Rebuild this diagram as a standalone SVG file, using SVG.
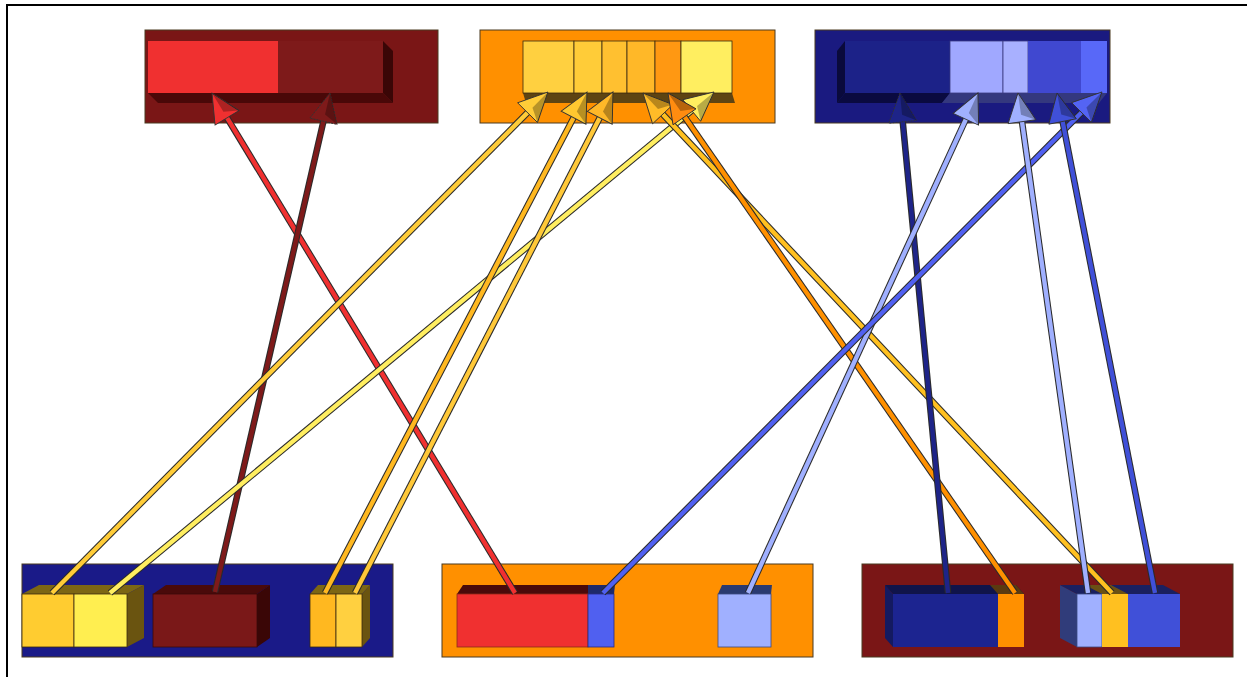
<svg xmlns="http://www.w3.org/2000/svg" width="1247" height="677" viewBox="0 0 1247 677">
<style>
.panel{stroke:#4a3a20;stroke-width:1}
.face{stroke:#3a2a10;stroke-width:0.8}
.sh{fill:#000;opacity:0.28}
.out{fill:none;stroke:#2a2a2a;stroke-width:6.5;stroke-linecap:butt}
.in{fill:none;stroke-width:4.4;stroke-linecap:butt}
</style>
<defs>
<marker id="m-red" markerUnits="userSpaceOnUse" markerWidth="40" markerHeight="40" viewBox="-20 -20 40 40" refX="0" refY="0" orient="auto"><path d="M16,0 L-13,-14 L-13,14 Z" fill="#F03030" stroke="#333" stroke-width="0.9"/><path class="sh" d="M16,0 L-13,14 L-6,0 Z"/></marker>
<marker id="m-dred" markerUnits="userSpaceOnUse" markerWidth="40" markerHeight="40" viewBox="-20 -20 40 40" refX="0" refY="0" orient="auto"><path d="M16,0 L-13,-14 L-13,14 Z" fill="#7E1A1A" stroke="#333" stroke-width="0.9" stroke-dasharray="2,1"/><path class="sh" d="M16,0 L-13,14 L-6,0 Z"/></marker>
<marker id="m-y1" markerUnits="userSpaceOnUse" markerWidth="40" markerHeight="40" viewBox="-20 -20 40 40" refX="0" refY="0" orient="auto"><path d="M16,0 L-13,-14 L-13,14 Z" fill="#FFCC38" stroke="#333" stroke-width="0.9"/><path class="sh" d="M16,0 L-13,14 L-6,0 Z"/></marker>
<marker id="m-y2" markerUnits="userSpaceOnUse" markerWidth="40" markerHeight="40" viewBox="-20 -20 40 40" refX="0" refY="0" orient="auto"><path d="M16,0 L-13,-14 L-13,14 Z" fill="#FFEE60" stroke="#333" stroke-width="0.9"/><path class="sh" d="M16,0 L-13,14 L-6,0 Z"/></marker>
<marker id="m-y3" markerUnits="userSpaceOnUse" markerWidth="40" markerHeight="40" viewBox="-20 -20 40 40" refX="0" refY="0" orient="auto"><path d="M16,0 L-13,-14 L-13,14 Z" fill="#FFC830" stroke="#333" stroke-width="0.9"/><path class="sh" d="M16,0 L-13,14 L-6,0 Z"/></marker>
<marker id="m-y4" markerUnits="userSpaceOnUse" markerWidth="40" markerHeight="40" viewBox="-20 -20 40 40" refX="0" refY="0" orient="auto"><path d="M16,0 L-13,-14 L-13,14 Z" fill="#FFB828" stroke="#333" stroke-width="0.9"/><path class="sh" d="M16,0 L-13,14 L-6,0 Z"/></marker>
<marker id="m-y5" markerUnits="userSpaceOnUse" markerWidth="40" markerHeight="40" viewBox="-20 -20 40 40" refX="0" refY="0" orient="auto"><path d="M16,0 L-13,-14 L-13,14 Z" fill="#FFBC28" stroke="#333" stroke-width="0.9"/><path class="sh" d="M16,0 L-13,14 L-6,0 Z"/></marker>
<marker id="m-or" markerUnits="userSpaceOnUse" markerWidth="40" markerHeight="40" viewBox="-20 -20 40 40" refX="0" refY="0" orient="auto"><path d="M16,0 L-13,-14 L-13,14 Z" fill="#FF8C10" stroke="#333" stroke-width="0.9"/><path class="sh" d="M16,0 L-13,14 L-6,0 Z"/></marker>
<marker id="m-navy" markerUnits="userSpaceOnUse" markerWidth="40" markerHeight="40" viewBox="-20 -20 40 40" refX="0" refY="0" orient="auto"><path d="M16,0 L-13,-14 L-13,14 Z" fill="#1E2488" stroke="#333" stroke-width="0.9" stroke-dasharray="2,1"/><path class="sh" d="M16,0 L-13,14 L-6,0 Z"/></marker>
<marker id="m-lb" markerUnits="userSpaceOnUse" markerWidth="40" markerHeight="40" viewBox="-20 -20 40 40" refX="0" refY="0" orient="auto"><path d="M16,0 L-13,-14 L-13,14 Z" fill="#A0B0FF" stroke="#333" stroke-width="0.9"/><path class="sh" d="M16,0 L-13,14 L-6,0 Z"/></marker>
<marker id="m-bl" markerUnits="userSpaceOnUse" markerWidth="40" markerHeight="40" viewBox="-20 -20 40 40" refX="0" refY="0" orient="auto"><path d="M16,0 L-13,-14 L-13,14 Z" fill="#5464F4" stroke="#333" stroke-width="0.9"/><path class="sh" d="M16,0 L-13,14 L-6,0 Z"/></marker>
<marker id="m-mb" markerUnits="userSpaceOnUse" markerWidth="40" markerHeight="40" viewBox="-20 -20 40 40" refX="0" refY="0" orient="auto"><path d="M16,0 L-13,-14 L-13,14 Z" fill="#4050D8" stroke="#333" stroke-width="0.9"/><path class="sh" d="M16,0 L-13,14 L-6,0 Z"/></marker>
</defs>

<rect x="0" y="0" width="1247" height="677" fill="#ffffff"/>
<path d="M7,680 L7,5 L1250,5" fill="none" stroke="#000" stroke-width="2"/>

<g id="top-left">
<rect class="panel" x="145" y="30" width="293" height="93" fill="#7A1616"/>
<polygon points="148,93 383,93 393,103 158,103" fill="#4A0808"/>
<polygon points="383,41 393,51 393,103 383,93" fill="#3A0606"/>
<rect x="148" y="41" width="130" height="52" fill="#F03030"/>
<rect x="278" y="41" width="105" height="52" fill="#7E1A1A"/>
</g>

<g id="top-middle">
<rect class="panel" x="480" y="30" width="295" height="93" fill="#FF9000"/>
<polygon points="523,93 732,93 735,103 526,103" fill="#5E4412"/>
<rect class="face" x="523" y="41" width="51" height="52" fill="#FFD040"/>
<rect class="face" x="574" y="41" width="28" height="52" fill="#FFCC38"/>
<rect class="face" x="602" y="41" width="25" height="52" fill="#FFC030"/>
<rect class="face" x="627" y="41" width="28" height="52" fill="#FFB828"/>
<rect class="face" x="655" y="41" width="26" height="52" fill="#FF9812"/>
<rect class="face" x="681" y="41" width="51" height="52" fill="#FFEE60"/>
</g>

<g id="top-right">
<rect class="panel" x="815" y="30" width="295" height="93" fill="#1A1A80"/>
<polygon points="845,41 837,51 837,103 845,93" fill="#0A0A3C"/>
<polygon points="845,93 950,93 942,103 837,103" fill="#0A0A40"/>
<polygon points="950,93 1107,93 1099,103 942,103" fill="#34387E"/>
<rect x="845" y="41" width="105" height="52" fill="#1C2288"/>
<rect x="950" y="41" width="53" height="52" fill="#A0A8FF" stroke="#3a3a80" stroke-width="0.8"/>
<rect x="1003" y="41" width="25" height="52" fill="#A8B0FF" stroke="#3a3a80" stroke-width="0.8"/>
<rect x="1028" y="41" width="53" height="52" fill="#4048D0"/>
<rect x="1081" y="41" width="26" height="52" fill="#5868F8"/>
</g>

<g id="bottom-left">
<rect class="panel" x="22" y="564" width="371" height="93" fill="#1A1A88"/>
<polygon points="22,594 39,585 144,585 127,594" fill="#7C6614"/>
<polygon points="127,594 144,585 144,638 127,647" fill="#6A5410"/>
<rect class="face" x="22" y="594" width="52" height="53" fill="#FFCC30"/>
<rect class="face" x="74" y="594" width="53" height="53" fill="#FFEE50"/>
<polygon points="153,594 166,585 270,585 257,594" fill="#4A0A0A"/>
<polygon points="257,594 270,585 270,638 257,647" fill="#3A0606"/>
<rect x="153" y="594" width="104" height="53" fill="#7A1818" stroke="#3a0a0a" stroke-width="0.8"/>
<polygon points="310,594 318,585 370,585 362,594" fill="#7C6614"/>
<polygon points="362,594 370,585 370,638 362,647" fill="#6A5410"/>
<rect class="face" x="310" y="594" width="26" height="53" fill="#FFB820"/>
<rect class="face" x="336" y="594" width="26" height="53" fill="#FFD040"/>
</g>

<g id="bottom-middle">
<rect class="panel" x="442" y="564" width="371" height="93" fill="#FF9000"/>
<polygon points="457,594 463,585 588,585 588,594" fill="#4A0A0A"/>
<polygon points="588,594 588,585 615,585 614,594" fill="#1E2A6A"/>
<rect x="457" y="594" width="131" height="53" fill="#F03030" stroke="#8a2a1a" stroke-width="0.8"/>
<rect x="588" y="594" width="26" height="53" fill="#5060F0" stroke="#2a2a80" stroke-width="0.8"/>
<polygon points="718,594 722,585 772,585 771,594" fill="#2A3A70"/>
<rect x="718" y="594" width="53" height="53" fill="#A0B0FF" stroke="#3a4a80" stroke-width="0.8"/>
</g>

<g id="bottom-right">
<rect class="panel" x="862" y="564" width="371" height="93" fill="#7A1616"/>
<polygon points="893,594 885,585 885,638 893,647" fill="#141A60"/>
<polygon points="893,594 885,585 1016,585 1024,594" fill="#10144A"/>
<polygon points="998,594 990,585 1016,585 1024,594" fill="#5A3A10"/>
<rect x="893" y="594" width="105" height="53" fill="#1C2490"/>
<rect x="998" y="594" width="26" height="53" fill="#FF9000"/>
<polygon points="1077,594 1060,585 1060,638 1077,647" fill="#303C7A"/>
<polygon points="1077,594 1060,585 1163,585 1180,594" fill="#1A2060"/>
<polygon points="1102,594 1085,585 1111,585 1128,594" fill="#6A5014"/>
<rect x="1077" y="594" width="25" height="53" fill="#A0B0FF" stroke="#3a4a80" stroke-width="0.8"/>
<rect x="1102" y="594" width="26" height="53" fill="#FFC020"/>
<rect x="1128" y="594" width="52" height="53" fill="#4050D8"/>
</g>

<g id="connectors">
<g><line class="out" x1="515" y1="593" x2="220.3" y2="106.7"/><line class="in" stroke="#F03030" x1="515" y1="593" x2="220.3" y2="106.7" marker-end="url(#m-red)"/></g>
<g><line class="out" x1="215" y1="592" x2="326.4" y2="108.6"/><line class="in" stroke="#7E1A1A" x1="215" y1="592" x2="326.4" y2="108.6" marker-end="url(#m-dred)"/></g>
<g><line class="out" x1="52" y1="593" x2="536.7" y2="103.4"/><line class="in" stroke="#FFCC38" x1="52" y1="593" x2="536.7" y2="103.4" marker-end="url(#m-y1)"/></g>
<g><line class="out" x1="110" y1="593" x2="701.7" y2="102.2"/><line class="in" stroke="#FFEE60" x1="110" y1="593" x2="701.7" y2="102.2" marker-end="url(#m-y2)"/></g>
<g><line class="out" x1="325" y1="593" x2="579.6" y2="106.2"/><line class="in" stroke="#FFB820" x1="325" y1="593" x2="579.6" y2="106.2" marker-end="url(#m-y3)"/></g>
<g><line class="out" x1="355" y1="593" x2="605.7" y2="106.2"/><line class="in" stroke="#FFC838" x1="355" y1="593" x2="605.7" y2="106.2" marker-end="url(#m-y4)"/></g>
<g><line class="out" x1="1112" y1="593" x2="653.9" y2="104.7"/><line class="in" stroke="#FFC020" x1="1112" y1="593" x2="653.9" y2="104.7" marker-end="url(#m-y5)"/></g>
<g><line class="out" x1="1015" y1="593" x2="677.1" y2="106.1"/><line class="in" stroke="#FF9000" x1="1015" y1="593" x2="677.1" y2="106.1" marker-end="url(#m-or)"/></g>
<g><line class="out" x1="948" y1="593" x2="901.5" y2="108.9"/><line class="in" stroke="#1E2488" x1="948" y1="593" x2="901.5" y2="108.9" marker-end="url(#m-navy)"/></g>
<g><line class="out" x1="748" y1="593" x2="971.3" y2="107.5"/><line class="in" stroke="#A0B0FF" x1="748" y1="593" x2="971.3" y2="107.5" marker-end="url(#m-lb)"/></g>
<g><line class="out" x1="603" y1="593" x2="1090.7" y2="103.3"/><line class="in" stroke="#5060F0" x1="603" y1="593" x2="1090.7" y2="103.3" marker-end="url(#m-bl)"/></g>
<g><line class="out" x1="1088" y1="593" x2="1020.2" y2="108.8"/><line class="in" stroke="#A0B0FF" x1="1088" y1="593" x2="1020.2" y2="108.8" marker-end="url(#m-lb)"/></g>
<g><line class="out" x1="1155" y1="593" x2="1060.1" y2="108.7"/><line class="in" stroke="#4050D8" x1="1155" y1="593" x2="1060.1" y2="108.7" marker-end="url(#m-mb)"/></g>
</g>
</svg>
